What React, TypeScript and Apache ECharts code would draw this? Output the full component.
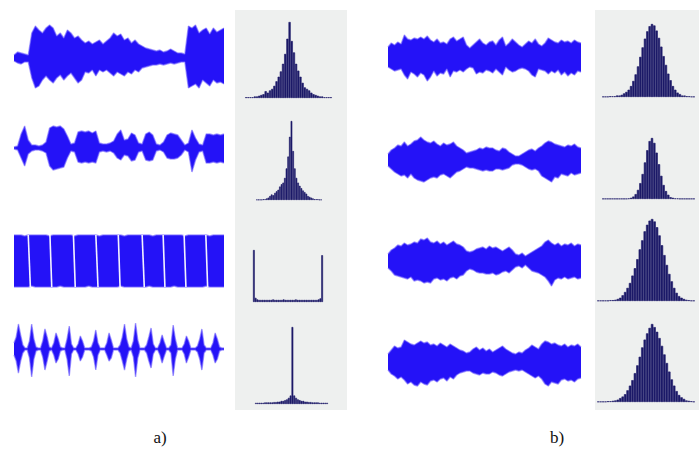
import React, { useEffect, useRef } from "react";
import * as echarts from "echarts";

// ---------- waveform envelopes (upper / lower amplitude, px-like units) ----------
const WA1_UP = [3,6,5,4,3,25,32,28,25,30,33,30,22,25,20,28,25,20,22,18,15,17,14,16,18,14,17,20,25,22,24,18,20,15,18,14,12,10,9,8,7,8,6,7,9,7,5,5,4,32,30,33,25,28,30,24,30,26,28,30];
const WA1_DN = [3,5,6,4,4,20,30,28,22,18,22,25,20,17,22,18,15,20,25,22,14,15,12,18,12,14,12,15,18,14,16,18,14,16,12,14,10,9,8,7,7,6,7,6,5,6,5,4,4,30,28,26,30,22,25,28,22,25,24,26];
const WA2_UP = [1,2,14,22,8,3,3,2,3,6,20,22,21,22,19,12,4,5,16,17,16,17,15,17,5,4,4,5,7,14,18,8,9,15,13,5,4,14,16,13,4,3,6,13,15,14,13,8,3,5,18,10,4,3,14,14,13,14,13,14];
const WA2_DN = [1,2,10,18,6,3,2,2,3,5,18,22,21,20,19,10,3,4,14,15,14,15,14,15,4,3,4,3,5,10,12,7,8,13,12,4,3,12,13,12,3,2,4,10,11,11,10,7,2,4,24,12,4,3,15,15,14,15,14,15];
const WA3_UP = [26,26,26,25,26,26,26,26,26,26,25,26,26,26,26,26,26,25,26,26,26,26,26,26,25,26,26,26,26,26,26,25,26,26,26,26,26,26,26,25,26,26,26,26,26,26,26,26,25,26,26,26,26,26,26,25,26,26,26,26];
const WA3_DN = [26,26,26,26,26,25,26,26,26,26,26,26,26,25,26,26,26,26,26,26,26,25,26,26,26,26,26,26,26,26,25,26,26,26,26,26,26,26,25,26,26,26,26,26,26,25,26,26,26,26,26,26,26,26,25,26,26,26,26,26];
const WA3_SLITS = [[4.0,4.6],[10.1,10.6],[16.7,17.2],[23.0,23.6],[29.3,29.8],[36.0,36.6],[41.9,42.4],[47.8,48.3],[53.9,54.4]];
const WA4_UP = [6,12,25,14,4,1,1,8,25,10,2,1,1,8,20,12,2,1,6,16,10,2,1,1,10,23,5,1,1,5,13,8,1,1,1,2,8,19,6,1,1,1,6,16,9,1,1,1,4,12,25,10,2,1,8,26,9,1,1,1,4,12,21,5,1,1,6,14,7,1,1,4,24,10,1,1,1,5,13,8,1,1,1,3,10,20,4,1,1,1,6,16,10,2,1,1];
const WA4_DN = [6,12,24,12,4,1,1,9,28,10,2,1,1,8,21,12,2,1,6,14,10,2,1,1,10,27,5,1,1,5,12,8,1,1,1,2,8,21,6,1,1,1,6,12,9,1,1,1,4,12,21,10,2,1,8,28,9,1,1,1,4,12,19,5,1,1,6,14,7,1,1,4,27,10,1,1,1,5,14,8,1,1,1,3,10,21,4,1,1,1,6,14,10,2,1,1];
const WB1_UP = [10,14,12,15,13,22,18,17,19,18,20,18,21,17,15,18,14,15,13,18,20,16,18,20,12,9,12,15,18,14,12,15,16,12,17,20,11,14,18,15,12,10,13,16,14,18,13,11,14,19,17,15,14,17,15,16,14,17,15,14];
const WB1_DN = [10,12,14,13,12,18,22,15,17,20,16,18,24,20,14,19,16,17,12,20,14,15,13,15,12,10,11,17,15,16,13,14,16,12,15,18,10,13,15,14,12,11,12,14,18,20,12,13,14,17,14,16,13,18,15,19,16,18,14,15];
const WB2_UP = [6,10,12,15,14,18,14,16,19,20,23,20,18,17,19,16,14,17,15,16,18,14,12,10,7,8,9,10,12,11,13,12,12,10,9,12,11,8,6,4,4,6,8,10,11,9,12,14,17,19,18,16,15,14,13,15,14,16,13,12];
const WB2_DN = [6,9,12,14,16,15,18,14,18,20,21,22,20,18,17,18,15,14,16,18,15,12,11,9,7,8,8,9,10,11,10,11,11,9,9,10,9,8,5,4,4,5,7,9,10,9,11,16,18,20,22,17,18,14,15,16,13,15,14,13];
const WB3_UP = [7,11,13,16,15,18,16,17,19,18,22,21,23,19,18,20,17,19,16,18,20,17,16,14,10,9,10,12,13,14,12,15,13,14,12,10,12,14,11,7,6,8,5,7,9,11,13,15,19,21,18,16,18,15,17,16,18,15,17,16];
const WB3_DN = [7,10,14,15,16,17,18,16,20,19,20,22,21,22,18,17,19,18,20,17,16,18,15,14,10,8,9,11,12,12,13,13,12,14,13,11,10,12,9,6,5,7,4,7,10,11,12,14,16,20,25,19,17,18,16,18,17,16,18,17];
const WB4_UP = [8,12,16,14,15,22,20,18,17,19,21,19,20,17,18,16,19,17,15,18,16,14,12,11,9,10,13,15,12,14,11,13,10,12,14,16,13,11,9,8,10,9,12,14,17,15,13,18,21,20,18,19,17,16,18,15,17,16,18,15];
const WB4_DN = [8,12,14,17,15,18,22,20,23,24,20,22,23,19,18,20,17,16,19,15,17,13,11,10,9,9,11,12,13,11,12,12,10,11,13,14,12,10,9,8,9,8,10,12,14,16,14,17,22,24,20,21,22,18,17,19,18,20,17,16];

// ---------- histograms (relative counts, peak = 100) ----------
const HA1 = [1,1,1,1,2,2,3,4,5,9,7,10,12,16,22,28,35,45,58,78,100,75,60,45,36,28,20,14,12,10,7,5,4,3,2,2,1,1,1,1];
const HA2 = [0.5,0.5,0.5,0.5,1,1,2,3,5,7,6,9,11,13,17,20,22,28,40,55,80,100,62,40,28,22,18,15,12,10,8,5,4,3,2,1,1,1,0.5,0.5];
const HA3 = [100,8,5,4,4,4,4,4,4,4,4,5,4,4,4,4,4,5,4,4,4,4,4,4,5,4,4,4,4,4,4,4,4,4,4,4,4,5,7,90];
const HA4 = [1.5,1.5,1.5,1.5,1.5,2,2,2,2,2,2.5,2.5,3,3,4,4,5,6,8,11,100,11,8,6,5,4,4,3,3,2.5,2.5,2,2,2,2,1.5,1.5,1.5,1.5,1.5];
const HB1 = [0.5,0.5,0.5,1,1,1,2,2,3,5,7,10,15,22,31,42,55,68,80,90,97,100,98,91,81,69,56,44,32,23,15,10,6,4,2,2,1,1,0.5,0.5];
const HB2 = [0.5,0.5,0.5,0.5,0.5,0.5,0.5,0.5,0.5,0.5,0.5,1,2,4,8,15,26,41,60,80,95,100,92,76,57,38,23,13,7,3,2,1,1,0.5,0.5,0.5,0.5,0.5,0.5,0.5];
const HB3 = [0.5,0.5,0.5,0.5,0.5,1,1,1.5,2.5,4,7,11,16,22,31,40,51,63,74,85,93,98,100,97,90,80,68,56,44,33,24,16,10,6,4,2.5,1.5,1,0.5,0.5];
const HB4 = [0.5,0.5,0.5,0.5,1,1,1.5,2,3,5,7,10,15,21,28,37,47,58,70,80,88,95,100,96,90,82,72,61,50,39,29,21,14,9,6,4,2,1.5,1,0.5];

const PANEL_LABELS = ["a)", "b)"];

const WAVES = [
  { up: WA1_UP, dn: WA1_DN }, { up: WA2_UP, dn: WA2_DN }, { up: WA3_UP, dn: WA3_DN }, { up: WA4_UP, dn: WA4_DN },
  { up: WB1_UP, dn: WB1_DN }, { up: WB2_UP, dn: WB2_DN }, { up: WB3_UP, dn: WB3_DN }, { up: WB4_UP, dn: WB4_DN },
];
const HISTS = [HA1, HA2, HA3, HA4, HB1, HB2, HB3, HB4];

// layout (pixels)
const WAVE_BOX = [
  { left: 14, top: 23, width: 210 }, { left: 14, top: 113, width: 210 },
  { left: 14, top: 226, width: 210 }, { left: 14, top: 314, width: 210 },
  { left: 388, top: 22, width: 193 }, { left: 388, top: 125, width: 193 },
  { left: 388, top: 226, width: 193 }, { left: 388, top: 327, width: 193 },
];
const HIST_BOX = [
  { left: 245, top: 22, width: 87, height: 76 }, { left: 256, top: 121, width: 66, height: 79 },
  { left: 253, top: 250, width: 70, height: 52 }, { left: 255, top: 327, width: 73, height: 77 },
  { left: 602, top: 24, width: 93, height: 73 }, { left: 602, top: 138, width: 93, height: 61 },
  { left: 597, top: 219, width: 98, height: 82 }, { left: 597, top: 324, width: 98, height: 78 },
];

const BLUE = "#2412f7";
const FRINGE = "#7466ff";
const NAVY = "#1c1a68";

export default function App() {
  const ref = useRef<HTMLDivElement>(null);
  useEffect(() => {
    if (!ref.current) return;
    const chart = echarts.init(ref.current, null, { renderer: "svg" });
    const grid: any[] = [];
    const xAxis: any[] = [];
    const yAxis: any[] = [];
    const series: any[] = [];

    WAVES.forEach((w, k) => {
      const b = WAVE_BOX[k];
      grid.push({ left: b.left, top: b.top, width: b.width, height: 70 });
      xAxis.push({ type: "value", gridIndex: k, min: 0, max: w.up.length - 1, show: false });
      yAxis.push({ type: "value", gridIndex: k, min: -35, max: 35, show: false });
      series.push({
        type: "line", xAxisIndex: k, yAxisIndex: k,
        data: w.dn.map((v, i) => [i, -v]), symbol: "none", silent: true,
        lineStyle: { color: FRINGE, width: 1.4, opacity: 0.6 },
        areaStyle: { color: BLUE, opacity: 1, origin: 0 },
      });
      const s: any = {
        type: "line", xAxisIndex: k, yAxisIndex: k,
        data: w.up.map((v, i) => [i, v]), symbol: "none", silent: true,
        lineStyle: { color: FRINGE, width: 1.4, opacity: 0.6 },
        areaStyle: { color: BLUE, opacity: 1, origin: 0 },
      };
      if (k === 2) {
        s.markLine = {
          silent: true, symbol: "none", label: { show: false },
          lineStyle: { color: "#ffffff", width: 1.6, type: "solid", opacity: 0.95 },
          data: WA3_SLITS.map(([t, bt]) => [{ coord: [t, 26] }, { coord: [bt, -26] }]),
        };
      }
      series.push(s);
    });

    HISTS.forEach((h, k) => {
      const gi = 8 + k;
      const b = HIST_BOX[k];
      grid.push({ left: b.left, top: b.top, width: b.width, height: b.height });
      xAxis.push({ type: "category", gridIndex: gi, data: h.map((_, i) => String(i)), show: false });
      yAxis.push({ type: "value", gridIndex: gi, min: 0, max: 100, show: false });
      series.push({
        type: "bar", xAxisIndex: gi, yAxisIndex: gi, data: h, barCategoryGap: "0%", silent: true,
        itemStyle: { color: NAVY, borderColor: NAVY, borderWidth: 0.6 },
      });
    });

    chart.setOption({
      animation: false,
      backgroundColor: "#ffffff",
      grid, xAxis, yAxis, series,
      graphic: [
        { type: "rect", z: -10, shape: { x: 235, y: 10, width: 112, height: 400 }, style: { fill: "#eef0ef" } },
        { type: "rect", z: -10, shape: { x: 595, y: 10, width: 104, height: 400 }, style: { fill: "#eef0ef" } },
        { type: "text", x: 160, y: 437, style: { text: PANEL_LABELS[0], font: '17px "Liberation Serif"', fill: "#111", align: "center", verticalAlign: "middle" } },
        { type: "text", x: 557, y: 437, style: { text: PANEL_LABELS[1], font: '17px "Liberation Serif"', fill: "#111", align: "center", verticalAlign: "middle" } },
      ],
    });
    return () => chart.dispose();
  }, []);
  return <div ref={ref} style={{ position: "fixed", left: 0, top: 0, width: 699, height: 450 }} />;
}
